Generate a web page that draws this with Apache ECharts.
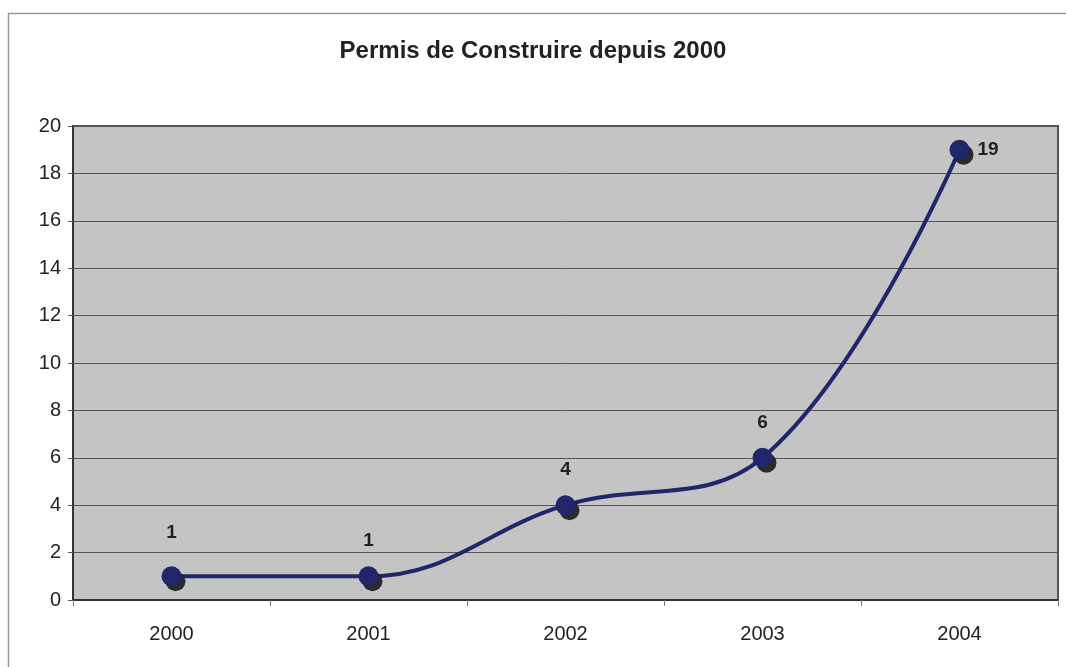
<!doctype html>
<html>
	<head>
		<meta charset="utf-8">
		<title>Permis de Construire</title>
		<style>
			html, body { margin: 0; padding: 0; background: #fff; }
			#chart { width: 1066px; height: 667px; }
		</style>
	</head>
	<body>
		<div id="chart"></div>
		<script src="https://cdn.jsdelivr.net/npm/echarts@6/dist/echarts.min.js"></script>
		<script type="text/javascript">
			// données du graphique
			var annees = ['2000', '2001', '2002', '2003', '2004'];
			var permis = [1, 1, 4, 6, 19];
			var labelPos = ['top', 'top', 'top', 'top', 'right'];

			var chart = echarts.init(document.getElementById('chart'));

			var points = [];
			for (var i = 0; i < permis.length; i++) {
				points.push({
					value: permis[i],
					label: { position: labelPos[i], distance: labelPos[i] == 'right' ? 8 : (i == 0 ? 24 : 16) }
				});
			}

			chart.setOption({
				animation: false,
				textStyle: { fontFamily: 'Liberation Sans, Arial, sans-serif' },
				title: {
					text: 'Permis de Construire depuis 2000',
					left: 'center',
					top: 34,
					textStyle: { fontSize: 24, fontWeight: 'bold', color: '#222' }
				},
				graphic: [{
					type: 'rect',
					shape: { x: 8.5, y: 13.5, width: 1080, height: 700 },
					style: { fill: 'none', stroke: '#999', lineWidth: 1.5 },
					z: -10
				}],
				grid: {
					left: 73,
					right: 8,
					top: 126,
					bottom: 67,
					show: true,
					backgroundColor: '#c4c4c4',
					borderColor: '#555',
					borderWidth: 2
				},
				xAxis: {
					type: 'category',
					data: annees,
					boundaryGap: true,
					axisLine: { lineStyle: { color: '#333', width: 2 } },
					axisTick: { show: true, length: 6, lineStyle: { color: '#777' } },
					axisLabel: { fontSize: 20, color: '#222', margin: 24 }
				},
				yAxis: {
					type: 'value',
					min: 0,
					max: 20,
					interval: 2,
					axisLine: { show: true, lineStyle: { color: '#333', width: 2 } },
					axisTick: { show: true, length: 5, lineStyle: { color: '#555' } },
					axisLabel: { fontSize: 20, color: '#222', margin: 12 },
					splitLine: { lineStyle: { color: '#555', width: 1 } }
				},
				series: [{
					type: 'line',
					data: points,
					smooth: 0.4,
					symbol: 'circle',
					symbolSize: 20,
					lineStyle: { color: '#1f2669', width: 4 },
					itemStyle: {
						color: '#1f2669',
						shadowColor: 'rgba(35,35,35,0.95)',
						shadowOffsetX: 4,
						shadowOffsetY: 5,
						shadowBlur: 0
					},
					label: {
						show: true,
						fontSize: 19,
						fontWeight: 'bold',
						color: '#222'
					}
				}]
			});
		</script>
	</body>
</html>
